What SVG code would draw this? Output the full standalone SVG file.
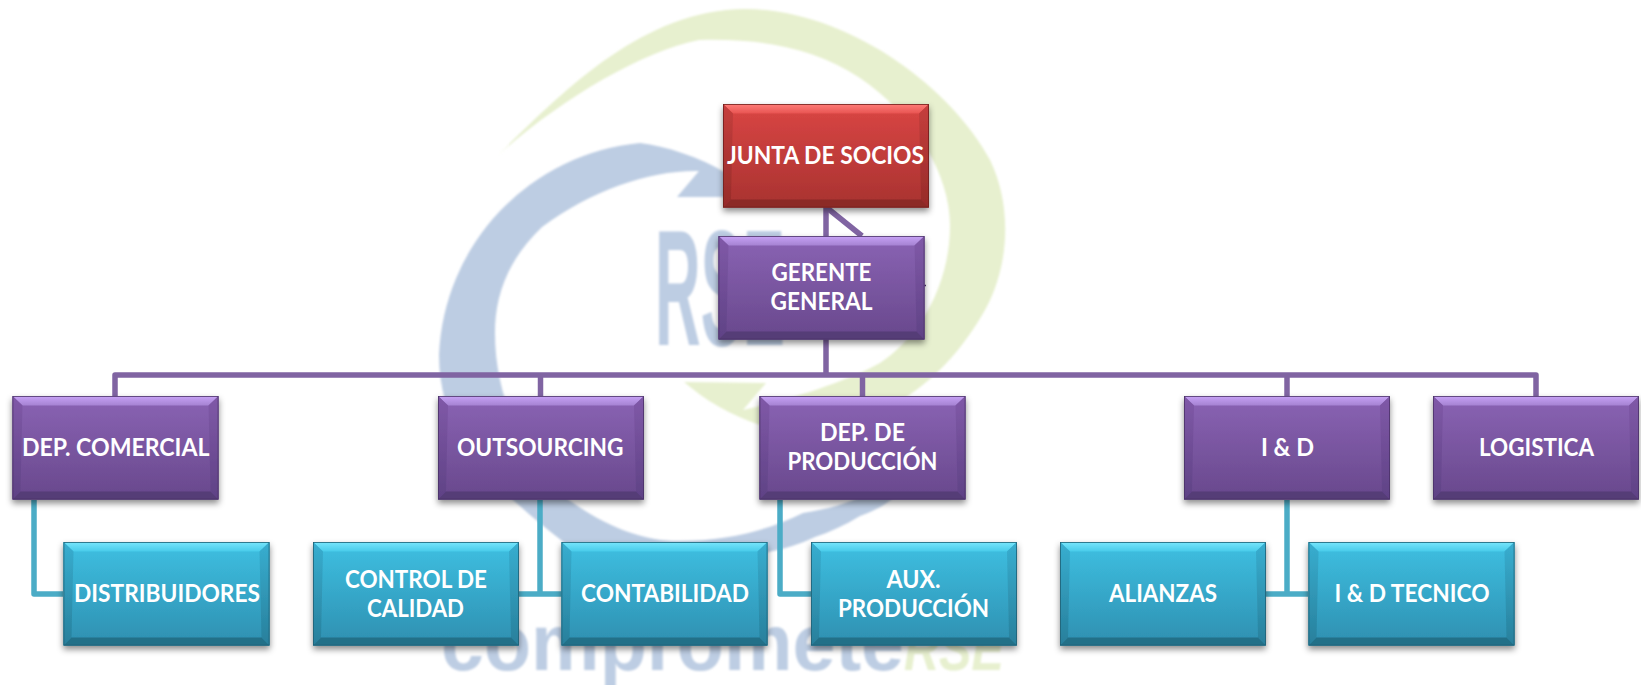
<svg xmlns="http://www.w3.org/2000/svg" width="1641" height="685" viewBox="0 0 1641 685">
<style>
.lbl{font-family:"Lato","Liberation Sans",sans-serif;font-weight:700;font-size:24px;fill:#fff}
.pl{fill:none;stroke:#8064a2;stroke-width:5.5;stroke-linejoin:round}
.tl{fill:none;stroke:#4bacc6;stroke-width:5.5;stroke-linejoin:round}
.logoB{fill:#bdcde3}
.logoG{fill:#e7f0cf}
.lt{font-family:"Liberation Sans",sans-serif}
</style>
<defs>
<filter id="sh" x="-10%" y="-10%" width="120%" height="125%"><feDropShadow dx="0" dy="3.5" stdDeviation="3" flood-color="#000" flood-opacity="0.45"/></filter>
<filter id="soft" x="-5%" y="-5%" width="110%" height="110%"><feGaussianBlur stdDeviation="0.9"/></filter>
<linearGradient id="pc" x1="0" y1="0" x2="0" y2="1"><stop offset="0" stop-color="#8a63b4"/><stop offset="1" stop-color="#68488c"/></linearGradient>
<linearGradient id="pt" x1="0" y1="0" x2="0" y2="1"><stop offset="0" stop-color="#c8a2f6"/><stop offset="1" stop-color="#a583d2"/></linearGradient>
<linearGradient id="ps" x1="0" y1="0" x2="0" y2="1"><stop offset="0" stop-color="#8059a8"/><stop offset="1" stop-color="#5f4285"/></linearGradient>
<linearGradient id="tc" x1="0" y1="0" x2="0" y2="1"><stop offset="0" stop-color="#3ec0e2"/><stop offset="1" stop-color="#2e8fb0"/></linearGradient>
<linearGradient id="tt" x1="0" y1="0" x2="0" y2="1"><stop offset="0" stop-color="#78e6fc"/><stop offset="1" stop-color="#48cbea"/></linearGradient>
<linearGradient id="ts" x1="0" y1="0" x2="0" y2="1"><stop offset="0" stop-color="#38aed0"/><stop offset="1" stop-color="#287f9b"/></linearGradient>
<linearGradient id="rc" x1="0" y1="0" x2="0" y2="1"><stop offset="0" stop-color="#da4644"/><stop offset="1" stop-color="#a83230"/></linearGradient>
<linearGradient id="rt" x1="0" y1="0" x2="0" y2="1"><stop offset="0" stop-color="#ff7c78"/><stop offset="1" stop-color="#e85552"/></linearGradient>
<linearGradient id="rs" x1="0" y1="0" x2="0" y2="1"><stop offset="0" stop-color="#c63f3d"/><stop offset="1" stop-color="#962b29"/></linearGradient>
<g id="box-p" filter="url(#sh)">
<rect width="206" height="103.5" fill="url(#pc)"/>
<polygon points="0,0 206,0 196,9.5 10,9.5" fill="url(#pt)"/>
<polygon points="0,0 10,9.5 8,95.5 0,103.5" fill="url(#ps)"/>
<polygon points="206,0 196,9.5 198,95.5 206,103.5" fill="url(#ps)"/>
<polygon points="0,103.5 8,95.5 198,95.5 206,103.5" fill="#553c77"/>
<rect x="0.4" y="0.4" width="205.2" height="102.7" fill="none" stroke="#4a3367" stroke-width="0.8"/>
</g>
<g id="box-t" filter="url(#sh)">
<rect width="206" height="103.5" fill="url(#tc)"/>
<polygon points="0,0 206,0 196,9.5 10,9.5" fill="url(#tt)"/>
<polygon points="0,0 10,9.5 8,95.5 0,103.5" fill="url(#ts)"/>
<polygon points="206,0 196,9.5 198,95.5 206,103.5" fill="url(#ts)"/>
<polygon points="0,103.5 8,95.5 198,95.5 206,103.5" fill="#246f88"/>
<rect x="0.4" y="0.4" width="205.2" height="102.7" fill="none" stroke="#1f6075" stroke-width="0.8"/>
</g>
<g id="box-r" filter="url(#sh)">
<rect width="206" height="103.5" fill="url(#rc)"/>
<polygon points="0,0 206,0 196,9.5 10,9.5" fill="url(#rt)"/>
<polygon points="0,0 10,9.5 8,95.5 0,103.5" fill="url(#rs)"/>
<polygon points="206,0 196,9.5 198,95.5 206,103.5" fill="url(#rs)"/>
<polygon points="0,103.5 8,95.5 198,95.5 206,103.5" fill="#8c2a28"/>
<rect x="0.4" y="0.4" width="205.2" height="102.7" fill="none" stroke="#6e1f1d" stroke-width="0.8"/>
</g>
</defs>
<rect width="1641" height="685" fill="#fff"/>
<g id="logo" filter="url(#soft)">
<path class="logoG" d="M498,155 C560,95 640,10 745,9 C845,9 950,85 990,160 C1012,205 1010,265 985,310 C965,345 940,375 905,398 C860,425 800,435 760,425 C730,415 705,400 684,382 L766,383 L743,410 C790,400 850,380 880,363 C915,340 950,290 950,225 C950,175 915,115 860,78 C815,48 760,38 699,40 C640,52 560,100 498,155 Z"/>
<path class="logoB" d="M762,197 L677,197 L699,171 C650,170 592,190 542,227 C505,262 495,300 495,333 C495,400 525,460 569,500 C610,530 650,542 681,541 C725,541 770,530 803,513 C820,510 838,507 860,497 L905,485 C890,505 875,510 860,516 C845,525 830,532 815,537 C800,544 785,549 768,552 C740,570 705,590 668,590 C625,590 590,570 561,540 C545,528 530,515 513,500 C475,470 439,420 439,355 A222,222 0 0 1 640,143 C665,146 700,157 726,173 Z"/>
<text class="lt logoB" font-size="165" font-weight="700" x="655" y="345" textLength="130" lengthAdjust="spacingAndGlyphs">RSE</text>
<text class="lt logoB" font-size="80" font-weight="700" x="441" y="670" textLength="463" lengthAdjust="spacingAndGlyphs">compromete</text>
<text class="lt logoG" font-size="62" font-weight="700" font-style="italic" x="904" y="670" textLength="100" lengthAdjust="spacingAndGlyphs">RSE</text>
</g>
<g id="connectors">
<path class="pl" d="M826,207 V236"/>
<path class="pl" d="M826,207 L862,236"/>
<path class="pl" d="M826,339 V375"/>
<path class="pl" d="M115,396 V375 H1536 V396"/>
<path class="pl" d="M540.5,375 V396"/>
<path class="pl" d="M862.5,375 V396"/>
<path class="pl" d="M1287,375 V396"/>
<path d="M924,285.5 H926" fill="none" stroke="#4a3367" stroke-width="1.5"/>
<path class="tl" d="M34,500 V594 H63"/>
<path class="tl" d="M540,500 V594"/>
<path class="tl" d="M519,594 H562"/>
<path class="tl" d="M780,500 V594 H811"/>
<path class="tl" d="M1287,500 V594"/>
<path class="tl" d="M1266,594 H1308"/>
</g>
<g id="n-junta"><use href="#box-r" x="723" y="104"/><text class="lbl" x="727" y="164" textLength="197" lengthAdjust="spacingAndGlyphs">JUNTA DE SOCIOS</text></g>
<g id="n-gerente"><use href="#box-p" x="718.5" y="236"/><text class="lbl" x="771.5" y="281.2" textLength="100" lengthAdjust="spacingAndGlyphs">GERENTE</text><text class="lbl" x="770.5" y="310.2" textLength="102" lengthAdjust="spacingAndGlyphs">GENERAL</text></g>
<g id="n-comercial"><use href="#box-p" x="12.5" y="396"/><text class="lbl" x="22" y="456" textLength="187.5" lengthAdjust="spacingAndGlyphs">DEP. COMERCIAL</text></g>
<g id="n-outsourcing"><use href="#box-p" x="438" y="396"/><text class="lbl" x="457" y="456" textLength="166.5" lengthAdjust="spacingAndGlyphs">OUTSOURCING</text></g>
<g id="n-produccion"><use href="#box-p" x="759.5" y="396"/><text class="lbl" x="820" y="441.2" textLength="85" lengthAdjust="spacingAndGlyphs">DEP. DE</text><text class="lbl" x="787.5" y="470.2" textLength="150" lengthAdjust="spacingAndGlyphs">PRODUCCIÓN</text></g>
<g id="n-id"><use href="#box-p" x="1184" y="396"/><text class="lbl" x="1261" y="456" textLength="53" lengthAdjust="spacingAndGlyphs">I &amp; D</text></g>
<g id="n-logistica"><use href="#box-p" x="1433" y="396"/><text class="lbl" x="1479" y="456" textLength="115" lengthAdjust="spacingAndGlyphs">LOGISTICA</text></g>
<g id="n-distribuidores"><use href="#box-t" x="63.5" y="542"/><text class="lbl" x="74" y="601.5" textLength="186" lengthAdjust="spacingAndGlyphs">DISTRIBUIDORES</text></g>
<g id="n-control"><use href="#box-t" x="313" y="542"/><text class="lbl" x="345" y="587.5" textLength="142" lengthAdjust="spacingAndGlyphs">CONTROL DE</text><text class="lbl" x="367" y="616.5" textLength="97" lengthAdjust="spacingAndGlyphs">CALIDAD</text></g>
<g id="n-contabilidad"><use href="#box-t" x="561.5" y="542"/><text class="lbl" x="581" y="601.5" textLength="168" lengthAdjust="spacingAndGlyphs">CONTABILIDAD</text></g>
<g id="n-aux"><use href="#box-t" x="811" y="542"/><text class="lbl" x="886.5" y="587.5" textLength="54" lengthAdjust="spacingAndGlyphs">AUX.</text><text class="lbl" x="838" y="616.5" textLength="151" lengthAdjust="spacingAndGlyphs">PRODUCCIÓN</text></g>
<g id="n-alianzas"><use href="#box-t" x="1060" y="542"/><text class="lbl" x="1109" y="601.5" textLength="108" lengthAdjust="spacingAndGlyphs">ALIANZAS</text></g>
<g id="n-tecnico"><use href="#box-t" x="1308.5" y="542"/><text class="lbl" x="1334.5" y="601.5" textLength="155" lengthAdjust="spacingAndGlyphs">I &amp; D TECNICO</text></g>
</svg>
